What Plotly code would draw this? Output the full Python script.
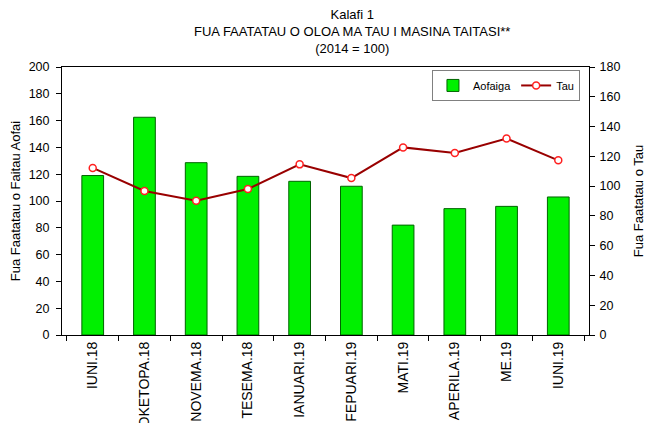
import plotly.graph_objects as go

categories = ["IUNI.18", "OKETOPA.18", "NOVEMA.18", "TESEMA.18", "IANUARI.19",
              "FEPUARI.19", "MATI.19", "APERILA.19", "ME.19", "IUNI.19"]
aofaiga = [119, 162.5, 128.6, 118.4, 114.7, 111, 82, 94.3, 96, 103]
tau = [112.2, 96.7, 90.2, 98, 114.6, 105.4, 126, 122.2, 132, 117.3]

title_text = "Kalafi 1<br>FUA FAATATAU O OLOA MA TAU I MASINA TAITASI**<br>(2014 = 100)"
font_family = "Arial, Liberation Sans, sans-serif"

fig = go.Figure()
fig.add_trace(go.Bar(
    x=categories, y=aofaiga, name="Aofaiga",
    marker=dict(color="#00f000", line=dict(color="#006400", width=1)),
    width=0.42, yaxis="y",
))
fig.add_trace(go.Scatter(
    x=categories, y=tau, name="Tau", mode="lines+markers",
    line=dict(color="#990000", width=2),
    marker=dict(symbol="circle", size=7, color="white",
                line=dict(color="#ff2020", width=1.5)),
    yaxis="y2",
))

fig.add_annotation(
    text=title_text, xref="paper", yref="paper", x=0.5503, y=1.132,
    xanchor="center", yanchor="middle", showarrow=False,
    font=dict(size=13, family=font_family, color="black"), align="center",
)

fig.update_layout(
    width=644, height=415,
    margin=dict(l=54, r=63, t=59, b=88, autoexpand=False),
    paper_bgcolor="white", plot_bgcolor="white",
    font=dict(family=font_family, size=12, color="black"),
    showlegend=True,
    legend=dict(
        orientation="h", x=0.702, y=0.989, xanchor="left", yanchor="top",
        bgcolor="white", bordercolor="#808080", borderwidth=1,
        font=dict(size=11), itemwidth=30,
    ),
    xaxis=dict(
        type="category", tickangle=-90, showline=True, linecolor="black",
        linewidth=1, mirror=True, ticks="outside", tickson="boundaries",
        ticklen=5, tickcolor="black", showgrid=False, automargin=False,
        tickfont=dict(size=14),
    ),
    yaxis=dict(
        range=[0, 200], dtick=20, showline=True, linecolor="black",
        linewidth=1, ticks="outside", ticklen=5, tickcolor="black",
        showgrid=False, zeroline=False, automargin=False,
        tickfont=dict(size=12.5), ticklabelstandoff=4,
        title=dict(text="Fua Faatatau o Faitau Aofai",
                   font=dict(size=13, color="black"), standoff=16),
    ),
    yaxis2=dict(
        range=[0, 180], dtick=20, overlaying="y", side="right",
        showline=True, linecolor="black", linewidth=1, ticks="outside",
        ticklen=5, tickcolor="black", showgrid=False, zeroline=False,
        automargin=False, tickfont=dict(size=12.5), ticklabelstandoff=2,
        title=dict(text="Fua Faatatau o Tau",
                   font=dict(size=13, color="black"), standoff=14),
    ),
    bargap=0.58,
)

fig.write_html("out.html")
